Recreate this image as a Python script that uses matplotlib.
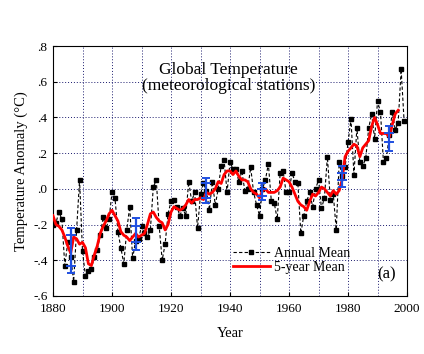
import numpy as np
import matplotlib
matplotlib.use('Agg')
from matplotlib import pyplot as plt
from matplotlib.ticker import MultipleLocator

# annual mean, 1880-1999
years = np.arange(1880, 2000)
annual = [-0.20, -0.19, -0.13, -0.17, -0.43, -0.30, -0.38, -0.52, -0.23, 0.05,
          -0.35, -0.49, -0.46, -0.45, -0.38, -0.34, -0.26, -0.16, -0.22, -0.17,
          -0.02, -0.05, -0.24, -0.33, -0.42, -0.23, -0.10, -0.39, -0.29, -0.28,
          -0.21, -0.25, -0.27, -0.23, 0.01, 0.05, -0.21, -0.40, -0.31, -0.14,
          -0.07, -0.06, -0.10, -0.15, -0.11, -0.15, 0.04, -0.07, -0.02, -0.22,
          -0.03, 0.03, -0.01, -0.12, 0.04, -0.09, 0.00, 0.13, 0.16, -0.02,
          0.15, 0.11, 0.11, 0.04, 0.10, -0.01, 0.00, 0.12, -0.02, -0.09,
          -0.15, 0.00, 0.05, 0.14, -0.07, -0.08, -0.17, 0.09, 0.10, -0.02,
          -0.02, 0.09, 0.04, 0.03, -0.25, -0.15, -0.07, -0.02, -0.10, 0.00,
          0.05, -0.11, -0.05, 0.18, -0.06, -0.03, -0.23, 0.15, 0.07, 0.12,
          0.26, 0.39, 0.08, 0.34, 0.15, 0.13, 0.17, 0.34, 0.42, 0.28,
          0.49, 0.43, 0.15, 0.17, 0.30, 0.43, 0.33, 0.37, 0.67, 0.38]

# 5-year mean, 1880-1997
years5 = np.arange(1880, 1998)
mean5 = [-0.15, -0.20, -0.21, -0.23, -0.27, -0.32, -0.36, -0.27, -0.28, -0.31,
         -0.30, -0.33, -0.42, -0.43, -0.37, -0.32, -0.25, -0.21, -0.18, -0.14,
         -0.12, -0.15, -0.18, -0.24, -0.26, -0.27, -0.29, -0.27, -0.25, -0.27,
         -0.26, -0.25, -0.20, -0.14, -0.13, -0.16, -0.18, -0.19, -0.23, -0.20,
         -0.13, -0.10, -0.11, -0.12, -0.11, -0.09, -0.06, -0.08, -0.06, -0.06,
         -0.05, -0.06, -0.02, -0.03, -0.02, 0.00, 0.04, 0.03, 0.08, 0.10,
         0.10, 0.08, 0.10, 0.07, 0.05, 0.05, 0.04, 0.00, -0.02, -0.03,
         -0.05, -0.01, 0.00, -0.02, -0.02, -0.02, -0.01, 0.01, 0.06, 0.05,
         0.04, 0.01, -0.03, -0.07, -0.09, -0.10, -0.12, -0.07, -0.03, -0.04,
         -0.02, 0.01, 0.00, -0.02, -0.04, -0.01, -0.03, -0.01, 0.05, 0.18,
         0.21, 0.23, 0.25, 0.24, 0.18, 0.23, 0.25, 0.27, 0.35, 0.40,
         0.36, 0.31, 0.31, 0.31, 0.29, 0.36, 0.42, 0.44]

# error bars: year, outer low/high, inner low/high
err_years = [1886, 1908, 1932, 1951, 1978, 1994]
err_lo = [-0.47, -0.34, -0.08, -0.06, 0.01, 0.21]
err_hi = [-0.22, -0.165, 0.06, 0.03, 0.13, 0.35]
inner_lo = [-0.43, -0.30, -0.05, -0.04, 0.05, 0.26]
inner_hi = [-0.26, -0.21, 0.03, 0.00, 0.09, 0.31]

plt.rcParams['font.family'] = ['Liberation Serif', 'DejaVu Serif']

fig = plt.figure(figsize=(4.24, 3.54), dpi=100)
ax = fig.add_axes([0.125, 0.164, 0.835, 0.706])

grid_col = '#1a1a6e'
for x in range(1890, 2000, 10):
    ax.axvline(x, color=grid_col, ls=(0, (1, 2)), lw=0.7, zorder=0)
for y in [-0.4, -0.2, 0.0, 0.2, 0.4, 0.6]:
    ax.axhline(y, color=grid_col, ls=(0, (1, 2)), lw=0.7, zorder=0)

ax.plot(years, annual, color='black', ls=(0, (3, 2)), lw=0.8, marker='s',
        markersize=2.6, label='Annual Mean', zorder=2)
ax.plot(years5, mean5, color='red', lw=2, label='5-year Mean', zorder=3)

# blue error bars
mid = [(a + b) / 2 for a, b in zip(err_lo, err_hi)]
yerr = [[m - a for m, a in zip(mid, err_lo)], [b - m for m, b in zip(mid, err_hi)]]
ax.errorbar(err_years, mid, yerr=yerr, fmt='none', ecolor='#1f4fe0',
            elinewidth=1.6, capsize=3, capthick=1.4, zorder=4)
ax.plot(err_years, inner_lo, ls='none', marker='_', markersize=7,
        mew=1.4, color='#1f4fe0', zorder=4)
ax.plot(err_years, inner_hi, ls='none', marker='_', markersize=7,
        mew=1.4, color='#1f4fe0', zorder=4)

ax.set_xlim(1880, 2000)
ax.set_ylim(-0.6, 0.8)
ax.xaxis.set_major_locator(MultipleLocator(20))
yt = [-0.6, -0.4, -0.2, 0.0, 0.2, 0.4, 0.6, 0.8]
ax.set_yticks(yt)
ax.set_yticklabels(['-.6', '-.4', '-.2', '.0', '.2', '.4', '.6', '.8'])
ax.tick_params(direction='in', labelsize=9.5, length=3)
ax.tick_params(axis='x', pad=5)
ax.tick_params(axis='y', pad=4)

ax.set_xlabel('Year', fontsize=10.5, labelpad=9)
ax.set_ylabel('Temperature Anomaly (°C)', fontsize=10.5, labelpad=4)

ax.text(1939.5, 0.665, 'Global Temperature', ha='center', va='center', fontsize=12.5)
ax.text(1939.5, 0.575, '(meteorological stations)', ha='center', va='center', fontsize=12.5)
ax.text(1993, -0.48, '(a)', ha='center', va='center', fontsize=12)

ax.legend(loc='lower left', bbox_to_anchor=(0.49, 0.06), frameon=False,
          fontsize=10, handlelength=2.6, handletextpad=0.3, labelspacing=0.05,
          borderpad=0)

fig.savefig('out.png', dpi=100)
